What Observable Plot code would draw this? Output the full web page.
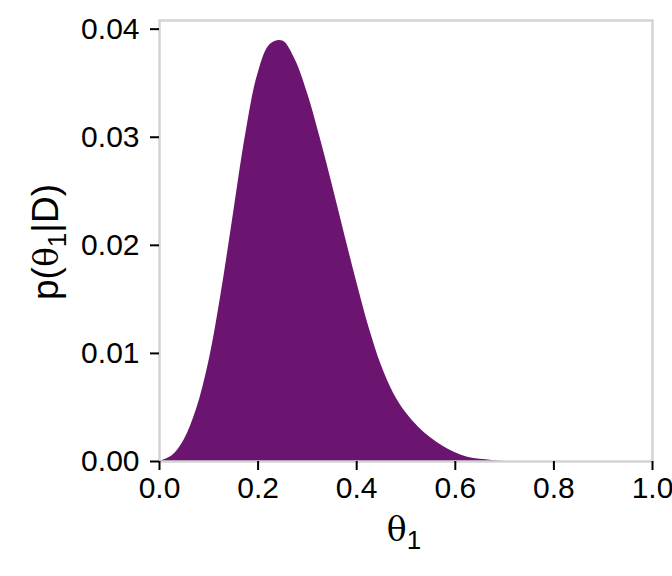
<!DOCTYPE html>
<html>
<head>
<meta charset="utf-8">
<script src="https://cdn.jsdelivr.net/npm/d3@7"></script>
<script src="https://cdn.jsdelivr.net/npm/@observablehq/plot@0.6"></script>
<style>
  html, body { margin: 0; padding: 0; background: white; }
</style>
</head>
<body>
<div id="chart"></div>
<script>
const theta = [0.000, 0.025, 0.050, 0.075, 0.100, 0.125, 0.150, 0.175, 0.200, 0.225,
               0.250, 0.275, 0.300, 0.325, 0.350, 0.375, 0.400, 0.425, 0.450, 0.475,
               0.500, 0.525, 0.550, 0.575, 0.600, 0.625, 0.650, 0.675, 0.700, 0.750,
               0.800, 0.850, 0.900, 0.950, 1.000];
const posterior = [0.0000, 0.0005, 0.0020, 0.0048, 0.0092, 0.0155, 0.0229, 0.0303, 0.0359, 0.0386,
                   0.0389, 0.0372, 0.0341, 0.0301, 0.0257, 0.0211, 0.0166, 0.0124, 0.0089, 0.0063,
                   0.0045, 0.0032, 0.0022, 0.0014, 0.0008, 0.0004, 0.0002, 0.0001, 0.0000, 0.0000,
                   0.0000, 0.0000, 0.0000, 0.0000, 0.0000];
const xTicks = [0.0, 0.2, 0.4, 0.6, 0.8, 1.0];
const yTicks = [0.00, 0.01, 0.02, 0.03, 0.04];

const data = theta.map((t, i) => ({theta: t, p: posterior[i]}));

const chart = Plot.plot({
  width: 672,
  height: 576,
  marginLeft: 159,
  marginRight: 20,
  marginTop: 20,
  marginBottom: 115,
  style: {fontFamily: "'Liberation Sans', Arial, sans-serif", fontSize: "30px", color: "black", background: "white"},
  x: {domain: [0, 1]},
  y: {domain: [0, 0.0408]},
  marks: [
    Plot.areaY(data, {x: "theta", y: "p", fill: "#6b1470", curve: "catmull-rom"}),
    Plot.frame({stroke: "#d3d3d3", strokeWidth: 2.5}),
    Plot.axisX({ticks: xTicks, tickFormat: d3.format(".1f"), tickSize: 9, tickPadding: 6, strokeWidth: 2, label: null}),
    Plot.axisY({ticks: yTicks, tickFormat: d3.format(".2f"), tickSize: 9, tickPadding: 11, strokeWidth: 2, label: null})
  ]
});

const svg = d3.select(chart);
// x label
const xl = svg.append("text")
  .attr("x", 404).attr("y", 541)
  .attr("text-anchor", "middle")
  .style("font-size", "37px")
  .style("font-family", "'Liberation Sans', Arial, sans-serif");
xl.append("tspan").text("θ").style("font-family", "'DejaVu Serif', serif").style("font-size", "33px");
xl.append("tspan").text("1").attr("dy", "0.3em").style("font-size", "26px");

// y label
const yl = svg.append("text")
  .attr("transform", "translate(58,242) rotate(-90)")
  .attr("text-anchor", "middle")
  .style("font-size", "37px")
  .style("font-family", "'Liberation Sans', Arial, sans-serif");
yl.append("tspan").text("p(");
yl.append("tspan").text("θ").style("font-family", "'DejaVu Serif', serif").style("font-size", "33px");
yl.append("tspan").text("1").attr("dy", "0.3em").style("font-size", "26px");
yl.append("tspan").text("|D)").attr("dy", "-0.21em");

document.getElementById("chart").appendChild(chart);
</script>
</body>
</html>
